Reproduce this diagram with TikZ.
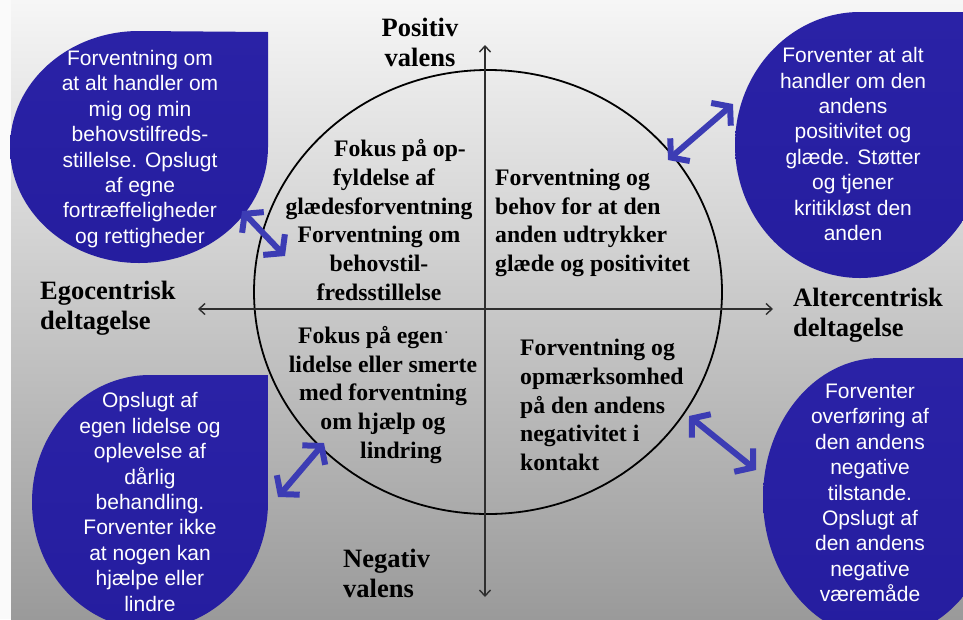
\documentclass[tikz,border=0pt]{standalone}
\usepackage{fontspec}
\setmainfont{Liberation Serif}
\newfontfamily\blobfont{Liberation Sans}
\usetikzlibrary{arrows.meta}
\definecolor{blobblue}{HTML}{251D9F}
\definecolor{blobtop}{HTML}{2A22A6}
\definecolor{arrowblue}{HTML}{3C3CB4}
\definecolor{axisgray}{HTML}{2E2E2E}
\definecolor{bgtop}{HTML}{F6F6F6}
\definecolor{bgmid}{HTML}{D8D8D8}
\definecolor{bgbot}{HTML}{9A9A9A}
\definecolor{strip}{HTML}{FAFAFA}

\begin{document}
\begin{tikzpicture}[x=1pt,y=-1pt,
  blob/.style={top color=blobtop, bottom color=blobblue},
  blobtext/.style={text=white, font=\blobfont\fontsize{21}{25.4}\selectfont,
    align=center, inner sep=0pt},
  quadtext/.style={font=\bfseries\fontsize{23.7}{28.7}\selectfont, inner sep=0pt},
  axislabel/.style={font=\bfseries\fontsize{26.5}{30}\selectfont, inner sep=0pt},
  axisline/.style={draw=axisgray, line width=1.4pt,
    {Straight Barb[length=6pt,width=11pt]}-{Straight Barb[length=6pt,width=11pt]}},
  link/.style={draw=arrowblue, line width=6pt, line cap=round, line join=round,
    {Straight Barb[length=12pt,width=30pt]}-{Straight Barb[length=12pt,width=30pt]}},
]
\useasboundingbox (0,0) rectangle (963,619);
\clip (0,0) rectangle (963,619);

% slide background
\fill[strip] (0,0) rectangle (11,619);
\shade[top color=bgtop, middle color=bgmid, bottom color=bgbot] (11,0) rectangle (963,619);

% teardrop blobs: ellipse with one square corner
\path[blob] (268,32) -- (139,31) arc[start angle=270, end angle=0, x radius=129, y radius=116] -- cycle;
\path[blob] (985,12) -- (860,12) arc[start angle=270, end angle=0, x radius=125, y radius=133] -- cycle;
\path[blob] (268,375) -- (150,375) arc[start angle=270, end angle=0, x radius=118, y radius=127] -- cycle;
\path[blob] (997,358) -- (880,358) arc[start angle=270, end angle=0, x radius=117, y radius=140] -- cycle;

% central circle
\draw[line width=1.8pt] (488,292) ellipse [x radius=234, y radius=222];

% axes
\coordinate (vtop) at (485,45);
\coordinate (vbot) at (485,597);
\coordinate (hleft) at (198,309);
\coordinate (hright) at (773,309);
\draw[axisline] (vbot) -- (vtop);
\draw[axisline] (hleft) -- (hright);

% axis labels
\node[axislabel, align=center] (pos) at (420,42) {Positiv\\valens};
\node[axislabel, align=left, anchor=west] (neg) at (343,573) {Negativ\\valens};
\node[axislabel, align=left, anchor=west] (ego) at (40,308) {Egocentrisk\\deltagelse};
\node[axislabel, align=left, anchor=west] (alter) at (793,315) {Altercentrisk\\deltagelse};

% quadrant texts
\node[quadtext, align=center] (qtl) at (379,220)
  {\hspace*{42pt}Fokus på op-\\\hspace*{10pt}fyldelse af\\glædesforventning\\Forventning om\\behovstil-\hspace*{30pt}\\fredsstillelse};
\node[quadtext, align=left, anchor=west] (qtr) at (495,223)
  {Forventning og\\behov for at den\\anden udtrykker\\glæde og positivitet};
\node[quadtext, align=center] (qbl) at (383,395)
  {Fokus på egen\raisebox{0.9ex}{\fontsize{12}{12}\selectfont\,.}\hspace*{20pt}\\lidelse eller smerte\\med forventning\\om hjælp og\\\hspace*{36pt}lindring};
\node[quadtext, align=left, anchor=west] (qbr) at (520,405)
  {Forventning og\\opmærksomhed\\på den andens\\negativitet i\\kontakt};

% blob texts
\node[blobtext] (btl) at (140,149)
  {Forventning om\\at alt handler om\\mig og min\\behovstilfreds-\\stillelse. Opslugt\\af egne\\fortræffeligheder\\og rettigheder};
\node[blobtext] (btr) at (853,144)
  {Forventer at alt\\handler om den\\andens\\positivitet og\\glæde. Støtter\\og tjener\\kritikløst den\\anden};
\node[blobtext] (bbl) at (150,502)
  {Opslugt af\\egen lidelse og\\oplevelse af\\dårlig\\behandling.\\Forventer ikke\\at nogen kan\\hjælpe eller\\lindre};
\node[blobtext] (bbr) at (870,493)
  {Forventer\\overføring af\\den andens\\negative\\tilstande.\\Opslugt af\\den andens\\negative\\væremåde};

% double arrows between circle and blobs
\coordinate (tlA) at (242,211);  \coordinate (tlB) at (285,256);
\coordinate (trA) at (668,160);  \coordinate (trB) at (733,104);
\coordinate (blA) at (278,497);  \coordinate (blB) at (324,443);
\coordinate (brA) at (689,416);  \coordinate (brB) at (756,470);
\draw[link] (tlA) -- (tlB);
\draw[link] (trA) -- (trB);
\draw[link] (blA) -- (blB);
\draw[link] (brA) -- (brB);
\end{tikzpicture}
\end{document}
